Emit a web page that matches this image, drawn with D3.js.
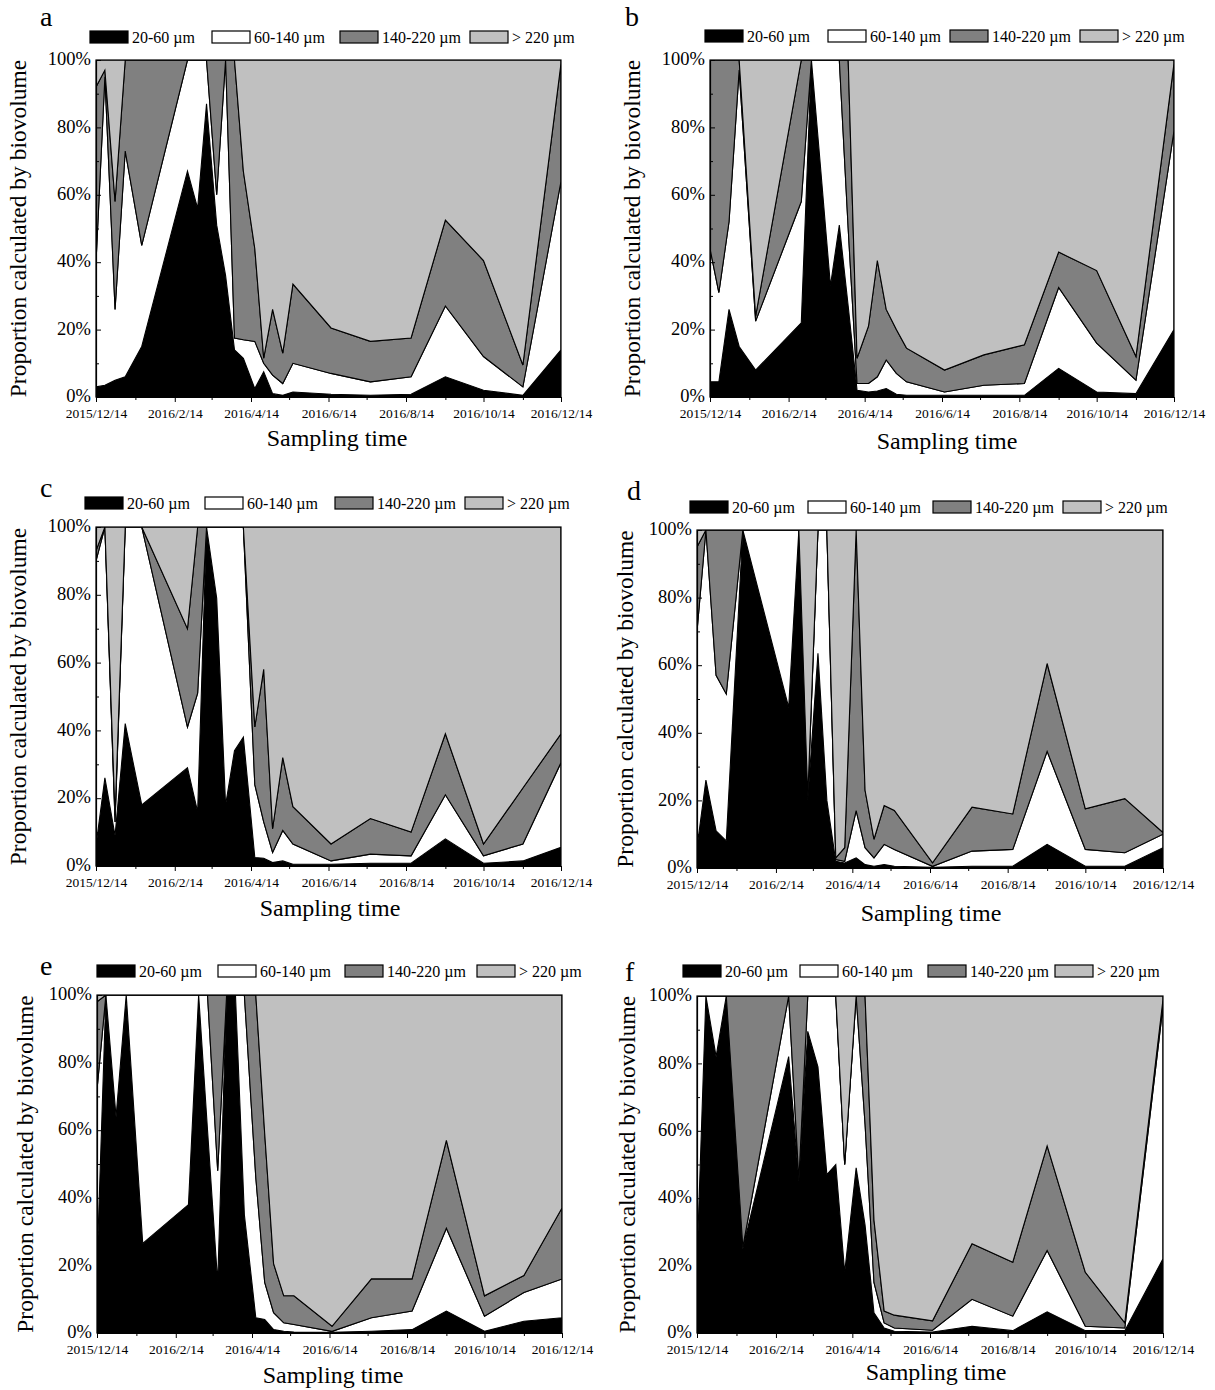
<!DOCTYPE html>
<html>
<head>
<meta charset="utf-8">
<script src="https://cdn.jsdelivr.net/npm/d3@7"></script>
<style>
  body { margin: 0; background: #fff; }
  svg text { font-family: "Liberation Serif", "Times New Roman", Times, serif; fill: #000; }
</style>
</head>
<body>
<svg id="fig" width="1215" height="1390"></svg>
<script>
// Sampling dates (shared by all six stations)
const sampleDates = [
  "2015-12-14", "2015-12-21", "2015-12-29", "2016-01-06", "2016-01-19", "2016-02-24",
  "2016-03-03", "2016-03-10", "2016-03-18", "2016-03-25", "2016-04-01", "2016-04-08",
  "2016-04-17", "2016-04-24", "2016-05-01", "2016-05-09", "2016-05-17", "2016-06-16",
  "2016-07-17", "2016-08-18", "2016-09-14", "2016-10-14", "2016-11-14", "2016-12-14"
];

const sizeClasses = ["20-60 \u00b5m", "60-140 \u00b5m", "140-220 \u00b5m", "> 220 \u00b5m"];
const classColors = ["#000000", "#ffffff", "#808080", "#c0c0c0"];
const xTickLabels = ["2015/12/14", "2016/2/14", "2016/4/14", "2016/6/14", "2016/8/14", "2016/10/14", "2016/12/14"];
const yTickValues = [0, 20, 40, 60, 80, 100];
const yMinorValues = [10, 30, 50, 70, 90];

// Share of biovolume (%) per size class, station a
const a_20_60   = [3, 3.5, 5, 6, 15, 67, 56, 87, 51, 36, 14, 11.5, 2.5, 7.5, 1, 0.5, 1.5, 0.8, 0.5, 0.8, 6, 2, 0.5, 14];
const a_60_140  = [37, 91.5, 21, 67, 30, 33, 44, 13, 9, 64, 3.5, 5.5, 14, 2.5, 5.5, 3.5, 8.5, 6.2, 4, 5.2, 21, 10, 2.5, 50];
const a_140_220 = [52, 2, 32, 27, 55, 0, 0, 0, 40, 0, 82.5, 50, 27.5, 1.5, 19.5, 9, 23.5, 13.5, 12, 11.5, 25.5, 28.5, 6.5, 35];
const a_over220 = [8, 3, 42, 0, 0, 0, 0, 0, 0, 0, 0, 33, 56, 88.5, 74, 87, 66.5, 79.5, 83.5, 82.5, 47.5, 59.5, 90.5, 1];

// Station b
const b_20_60   = [4.5, 4.5, 26, 15, 8, 22, 100, 69, 33, 51, 27, 2, 1.5, 1.8, 2.5, 0.8, 0.5, 0.5, 0.5, 0.5, 8.5, 1.5, 1, 20];
const b_60_140  = [39.5, 26.5, 26, 82, 14.5, 36, 0, 31, 67, 49, 23, 2, 2.5, 4.2, 8.5, 6.2, 4, 1, 3, 3.5, 24, 14.5, 4, 59];
const b_140_220 = [56, 69, 48, 3, 1.5, 42, 0, 0, 0, 0, 50, 7.5, 17, 34.5, 15, 13, 10, 6.5, 9, 11.5, 10.5, 21.5, 7, 20];
const b_over220 = [0, 0, 0, 0, 76, 0, 0, 0, 0, 0, 0, 88.5, 79, 59.5, 74, 80, 85.5, 92, 87.5, 84.5, 57, 62.5, 88, 1];

// Station c
const c_20_60   = [6, 26, 9, 42, 18, 29, 16, 100, 79, 18, 34, 38, 2.5, 2.3, 1, 1.5, 0.5, 0.5, 0.8, 0.8, 8, 0.8, 1.5, 5.5];
const c_60_140  = [84, 74, 4, 58, 82, 12, 35, 0, 21, 82, 66, 62, 21.5, 10.7, 3, 9, 6, 1, 2.7, 2.2, 13, 2.2, 5, 25];
const c_140_220 = [3, 0, 2, 0, 0, 29, 49, 0, 0, 0, 0, 0, 17, 45, 7, 21.5, 11, 5, 10.5, 7, 18, 3.5, 16.5, 8.5];
const c_over220 = [7, 0, 85, 0, 0, 30, 0, 0, 0, 0, 0, 0, 59, 42, 89, 68, 82.5, 93.5, 86, 90, 61, 93.5, 77, 61];

// Station d
const d_20_60   = [6, 26, 11, 8, 100, 47.5, 100, 20, 63.5, 20, 2, 1.5, 3, 1, 0.5, 1, 0.5, 0.2, 0.5, 0.5, 7, 0.5, 0.5, 6];
const d_60_140  = [64, 74, 46, 43.5, 0, 52.5, 0, 0.5, 36.5, 80, 0.5, 0.5, 14, 5, 2.5, 6, 5, 0.3, 4.5, 5, 27.5, 5, 4, 4];
const d_140_220 = [25, 0, 43, 48.5, 0, 0, 0, 0.5, 0, 0, 0.5, 4, 83, 17, 5.5, 11.5, 11.5, 1, 13, 10.5, 26, 12, 16, 0.5];
const d_over220 = [5, 0, 0, 0, 0, 0, 0, 79, 0, 0, 97, 94, 0, 77, 91.5, 81.5, 83, 98.5, 82, 84, 39.5, 82.5, 79.5, 89.5];

// Station e
const e_20_60   = [19.5, 100, 64, 100, 26.5, 38, 100, 60, 15, 100, 100, 35, 4.5, 4, 1, 0.5, 0.3, 0.2, 0.5, 1, 6.5, 0.5, 3.5, 4.5];
const e_60_140  = [52.5, 0, 36, 0, 73.5, 62, 0, 40, 33, 0, 0, 65, 41.5, 11, 5, 2.5, 2.2, 0.3, 4, 5.5, 24.5, 4.5, 8.5, 11.5];
const e_140_220 = [26, 0, 0, 0, 0, 0, 0, 0, 52, 0, 0, 0, 54, 44, 14.5, 8, 8.5, 1.5, 11.5, 9.5, 26, 6, 5, 21];
const e_over220 = [2, 0, 0, 0, 0, 0, 0, 0, 0, 0, 0, 0, 0, 41, 79.5, 89, 89, 98, 84, 84, 43, 89, 83, 63];

// Station f
const f_20_60   = [21, 100, 82, 100, 25, 82, 45, 89.5, 79, 47, 50, 18, 49, 32, 6, 1.5, 0.5, 0.3, 2, 0.7, 6.3, 0.7, 0.7, 22];
const f_60_140  = [79, 0, 18, 0, 0.5, 18, 0.5, 10.5, 21, 53, 50, 32, 51, 30, 9, 1.5, 1, 0.5, 8, 4.3, 18.2, 1.3, 0.8, 75];
const f_140_220 = [0, 0, 0, 0, 74.5, 0, 54.5, 0, 0, 0, 0, 0, 0, 38, 18.5, 3.5, 3.8, 2.8, 16.5, 16, 31, 16, 1.5, 2];
const f_over220 = [0, 0, 0, 0, 0, 0, 0, 0, 0, 0, 0, 50, 0, 0, 66.5, 93.5, 94.7, 96.4, 73.5, 79, 44.5, 82, 97, 1];

// Panel layout
const panels = [
  { id: "a", series: [a_20_60, a_60_140, a_140_220, a_over220],
    plot: { x: 96, y: 60, w: 465, h: 337 }, letter: [40, 26],
    legendY: 37, legendX: [90, 212, 340, 470], yTitleX: 18, xTitle: [337, 446] },
  { id: "b", series: [b_20_60, b_60_140, b_140_220, b_over220],
    plot: { x: 710, y: 60, w: 464, h: 337 }, letter: [625, 26],
    legendY: 36, legendX: [705, 828, 950, 1080], yTitleX: 632, xTitle: [947, 449] },
  { id: "c", series: [c_20_60, c_60_140, c_140_220, c_over220],
    plot: { x: 96, y: 527, w: 465, h: 339 }, letter: [40, 497],
    legendY: 503, legendX: [85, 205, 335, 465], yTitleX: 18, xTitle: [330, 916] },
  { id: "d", series: [d_20_60, d_60_140, d_140_220, d_over220],
    plot: { x: 697, y: 530, w: 466, h: 338 }, letter: [627, 500],
    legendY: 507, legendX: [690, 808, 933, 1063], yTitleX: 625, xTitle: [931, 921] },
  { id: "e", series: [e_20_60, e_60_140, e_140_220, e_over220],
    plot: { x: 97, y: 995, w: 465, h: 338 }, letter: [40, 975],
    legendY: 971, legendX: [97, 218, 345, 477], yTitleX: 25, xTitle: [333, 1383] },
  { id: "f", series: [f_20_60, f_60_140, f_140_220, f_over220],
    plot: { x: 697, y: 996, w: 466, h: 337 }, letter: [625, 981],
    legendY: 971, legendX: [683, 800, 928, 1055], yTitleX: 627, xTitle: [936, 1380] }
];

const parseDate = d3.timeParse("%Y-%m-%d");
const parseTick = d3.timeParse("%Y/%m/%d");
const fmtTick = d3.timeFormat("%Y/%-m/%-d");
const dates = sampleDates.map(parseDate);
const majorTicks = xTickLabels.map(parseTick);
const minorTicks = d3.range(13).map(i => d3.timeMonth.offset(majorTicks[0], i)).filter((d, i) => i % 2 === 1);

const svg = d3.select("#fig");
const keys = [0, 1, 2, 3];

panels.forEach(p => {
  const { x: px, y: py, w, h } = p.plot;
  const g = svg.append("g").attr("transform", `translate(${px},${py})`);

  const x = d3.scaleTime().domain([majorTicks[0], majorTicks[majorTicks.length - 1]]).range([0, w]);
  const y = d3.scaleLinear().domain([0, 100]).range([h, 0]);

  const rows = dates.map((date, i) => {
    const r = { date };
    keys.forEach(k => { r[k] = p.series[k][i]; });
    return r;
  });
  const layers = d3.stack().keys(keys)(rows);

  const clipId = "clip-" + p.id;
  g.append("clipPath").attr("id", clipId)
    .append("rect").attr("x", 0).attr("y", 0).attr("width", w).attr("height", h);

  const area = d3.area()
    .x(d => x(d.data.date))
    .y0(d => y(d[0]))
    .y1(d => y(d[1]));

  // stacked size-class areas, each outlined in black
  g.append("g").attr("clip-path", `url(#${clipId})`)
    .selectAll("path").data(layers).join("path")
    .attr("d", area)
    .attr("fill", d => classColors[d.key])
    .attr("stroke", "#000")
    .attr("stroke-width", 1.1)
    .attr("stroke-linejoin", "miter");

  // frame
  g.append("rect").attr("x", 0).attr("y", 0).attr("width", w).attr("height", h)
    .attr("fill", "none").attr("stroke", "#000").attr("stroke-width", 1.2);

  // x axis
  const xAxis = g.append("g").attr("transform", `translate(0,${h})`)
    .call(d3.axisBottom(x).tickValues(majorTicks).tickFormat(fmtTick).tickSize(5).tickSizeOuter(0).tickPadding(6));
  xAxis.selectAll("text").attr("font-size", 13.5).attr("font-family", "Liberation Serif");
  g.append("g").attr("transform", `translate(0,${h})`)
    .call(d3.axisBottom(x).tickValues(minorTicks).tickFormat("").tickSize(3).tickSizeOuter(0))
    .select(".domain").remove();

  // y axis
  const yAxis = g.append("g")
    .call(d3.axisLeft(y).tickValues(yTickValues).tickFormat(d => d + "%").tickSize(-5).tickSizeOuter(0).tickPadding(5));
  yAxis.selectAll("text").attr("font-size", 18.5).attr("dy", "0.25em").attr("font-family", "Liberation Serif");
  g.append("g")
    .call(d3.axisLeft(y).tickValues(yMinorValues).tickFormat("").tickSize(-3).tickSizeOuter(0))
    .select(".domain").remove();

  svg.selectAll(".domain").attr("stroke-width", 1.2);

  // axis titles
  svg.append("text")
    .attr("x", p.xTitle[0]).attr("y", p.xTitle[1])
    .attr("text-anchor", "middle").attr("font-size", 24)
    .text("Sampling time");
  svg.append("text")
    .attr("transform", `translate(${p.yTitleX},${py + h / 2}) rotate(-90)`)
    .attr("dy", "0.35em")
    .attr("text-anchor", "middle").attr("font-size", 23.5)
    .text("Proportion calculated by biovolume");

  // panel letter
  svg.append("text").attr("x", p.letter[0]).attr("y", p.letter[1])
    .attr("font-size", 28).text(p.id);

  // legend
  const lg = svg.append("g");
  keys.forEach(k => {
    const lx = p.legendX[k];
    lg.append("rect").attr("x", lx).attr("y", p.legendY - 6)
      .attr("width", 38).attr("height", 12)
      .attr("fill", classColors[k]).attr("stroke", "#000").attr("stroke-width", 1.2);
    lg.append("text").attr("x", lx + 42).attr("y", p.legendY)
      .attr("dy", "0.35em").attr("font-size", 16)
      .text(sizeClasses[k]);
  });
});
</script>
</body>
</html>
